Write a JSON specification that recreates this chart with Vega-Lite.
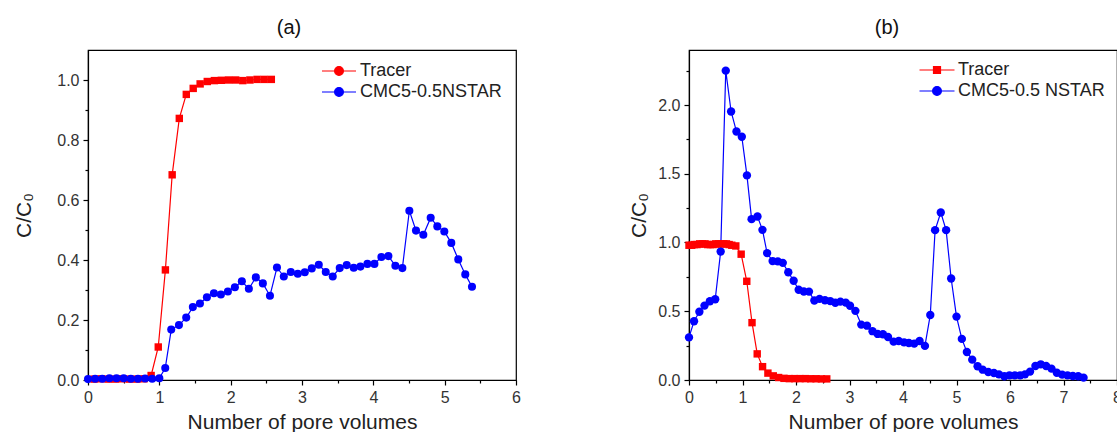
{
  "$schema": "https://vega.github.io/schema/vega-lite/v6.json",
  "background": "white",
  "padding": {"left": 13, "top": 17, "right": 0, "bottom": 0},
  "config": {
    "font": "Liberation Sans",
    "view": {"stroke": "#000", "strokeWidth": 1.2},
    "axis": {
      "grid": false,
      "domainColor": "#000",
      "domainWidth": 1.2,
      "tickColor": "#000",
      "tickWidth": 1.2,
      "labelFont": "Liberation Sans",
      "labelFontSize": 16,
      "labelColor": "#333",
      "labelPadding": 4,
      "labelOverlap": false,
      "labelFlush": false,
      "titleFont": "Liberation Sans",
      "titleFontSize": 21,
      "titleFontWeight": "normal",
      "titleColor": "#222"
    },
    "title": {"font": "Liberation Sans", "fontSize": 20, "fontWeight": "normal", "color": "#111"}
  },
  "datasets": {
    "a": [
      {"x": 0.085, "y": 0.003, "s": "Tracer"}, {"x": 0.185, "y": 0.004, "s": "Tracer"}, {"x": 0.285, "y": 0.003, "s": "Tracer"},
      {"x": 0.385, "y": 0.003, "s": "Tracer"}, {"x": 0.485, "y": 0.004, "s": "Tracer"}, {"x": 0.585, "y": 0.003, "s": "Tracer"},
      {"x": 0.685, "y": 0.003, "s": "Tracer"}, {"x": 0.785, "y": 0.004, "s": "Tracer"}, {"x": 0.885, "y": 0.015, "s": "Tracer"},
      {"x": 0.985, "y": 0.11, "s": "Tracer"}, {"x": 1.085, "y": 0.367, "s": "Tracer"}, {"x": 1.18, "y": 0.684, "s": "Tracer"},
      {"x": 1.28, "y": 0.872, "s": "Tracer"}, {"x": 1.378, "y": 0.952, "s": "Tracer"}, {"x": 1.475, "y": 0.972, "s": "Tracer"},
      {"x": 1.572, "y": 0.987, "s": "Tracer"}, {"x": 1.672, "y": 0.995, "s": "Tracer"}, {"x": 1.772, "y": 0.998, "s": "Tracer"},
      {"x": 1.87, "y": 0.999, "s": "Tracer"}, {"x": 1.97, "y": 1.0, "s": "Tracer"}, {"x": 2.07, "y": 1.0, "s": "Tracer"},
      {"x": 2.17, "y": 0.998, "s": "Tracer"}, {"x": 2.27, "y": 1.0, "s": "Tracer"}, {"x": 2.37, "y": 1.002, "s": "Tracer"},
      {"x": 2.47, "y": 1.002, "s": "Tracer"}, {"x": 2.57, "y": 1.002, "s": "Tracer"},
      {"x": 0.0, "y": 0.003, "s": "CMC5-0.5NSTAR"}, {"x": 0.1, "y": 0.004, "s": "CMC5-0.5NSTAR"}, {"x": 0.2, "y": 0.004, "s": "CMC5-0.5NSTAR"},
      {"x": 0.3, "y": 0.006, "s": "CMC5-0.5NSTAR"}, {"x": 0.4, "y": 0.006, "s": "CMC5-0.5NSTAR"}, {"x": 0.5, "y": 0.006, "s": "CMC5-0.5NSTAR"},
      {"x": 0.6, "y": 0.004, "s": "CMC5-0.5NSTAR"}, {"x": 0.7, "y": 0.004, "s": "CMC5-0.5NSTAR"}, {"x": 0.8, "y": 0.005, "s": "CMC5-0.5NSTAR"},
      {"x": 0.9, "y": 0.004, "s": "CMC5-0.5NSTAR"}, {"x": 1.0, "y": 0.006, "s": "CMC5-0.5NSTAR"}, {"x": 1.083, "y": 0.04, "s": "CMC5-0.5NSTAR"},
      {"x": 1.167, "y": 0.168, "s": "CMC5-0.5NSTAR"}, {"x": 1.275, "y": 0.183, "s": "CMC5-0.5NSTAR"}, {"x": 1.377, "y": 0.208, "s": "CMC5-0.5NSTAR"},
      {"x": 1.47, "y": 0.243, "s": "CMC5-0.5NSTAR"}, {"x": 1.569, "y": 0.255, "s": "CMC5-0.5NSTAR"}, {"x": 1.667, "y": 0.276, "s": "CMC5-0.5NSTAR"},
      {"x": 1.765, "y": 0.289, "s": "CMC5-0.5NSTAR"}, {"x": 1.863, "y": 0.285, "s": "CMC5-0.5NSTAR"}, {"x": 1.961, "y": 0.295, "s": "CMC5-0.5NSTAR"},
      {"x": 2.059, "y": 0.309, "s": "CMC5-0.5NSTAR"}, {"x": 2.157, "y": 0.329, "s": "CMC5-0.5NSTAR"}, {"x": 2.255, "y": 0.304, "s": "CMC5-0.5NSTAR"},
      {"x": 2.353, "y": 0.342, "s": "CMC5-0.5NSTAR"}, {"x": 2.451, "y": 0.322, "s": "CMC5-0.5NSTAR"}, {"x": 2.551, "y": 0.281, "s": "CMC5-0.5NSTAR"},
      {"x": 2.649, "y": 0.375, "s": "CMC5-0.5NSTAR"}, {"x": 2.745, "y": 0.345, "s": "CMC5-0.5NSTAR"}, {"x": 2.843, "y": 0.36, "s": "CMC5-0.5NSTAR"},
      {"x": 2.941, "y": 0.354, "s": "CMC5-0.5NSTAR"}, {"x": 3.039, "y": 0.359, "s": "CMC5-0.5NSTAR"}, {"x": 3.137, "y": 0.372, "s": "CMC5-0.5NSTAR"},
      {"x": 3.235, "y": 0.384, "s": "CMC5-0.5NSTAR"}, {"x": 3.333, "y": 0.36, "s": "CMC5-0.5NSTAR"}, {"x": 3.431, "y": 0.345, "s": "CMC5-0.5NSTAR"},
      {"x": 3.529, "y": 0.373, "s": "CMC5-0.5NSTAR"}, {"x": 3.627, "y": 0.383, "s": "CMC5-0.5NSTAR"}, {"x": 3.725, "y": 0.374, "s": "CMC5-0.5NSTAR"},
      {"x": 3.819, "y": 0.378, "s": "CMC5-0.5NSTAR"}, {"x": 3.917, "y": 0.387, "s": "CMC5-0.5NSTAR"}, {"x": 4.015, "y": 0.387, "s": "CMC5-0.5NSTAR"},
      {"x": 4.113, "y": 0.41, "s": "CMC5-0.5NSTAR"}, {"x": 4.211, "y": 0.413, "s": "CMC5-0.5NSTAR"}, {"x": 4.309, "y": 0.381, "s": "CMC5-0.5NSTAR"},
      {"x": 4.407, "y": 0.373, "s": "CMC5-0.5NSTAR"}, {"x": 4.505, "y": 0.564, "s": "CMC5-0.5NSTAR"}, {"x": 4.598, "y": 0.498, "s": "CMC5-0.5NSTAR"},
      {"x": 4.701, "y": 0.484, "s": "CMC5-0.5NSTAR"}, {"x": 4.804, "y": 0.541, "s": "CMC5-0.5NSTAR"}, {"x": 4.897, "y": 0.512, "s": "CMC5-0.5NSTAR"},
      {"x": 4.995, "y": 0.495, "s": "CMC5-0.5NSTAR"}, {"x": 5.093, "y": 0.457, "s": "CMC5-0.5NSTAR"}, {"x": 5.191, "y": 0.402, "s": "CMC5-0.5NSTAR"},
      {"x": 5.289, "y": 0.352, "s": "CMC5-0.5NSTAR"}, {"x": 5.383, "y": 0.311, "s": "CMC5-0.5NSTAR"}
    ],
    "b": [
      {"x": 0.0, "y": 0.98, "s": "Tracer"}, {"x": 0.05, "y": 0.98, "s": "Tracer"}, {"x": 0.1, "y": 0.985, "s": "Tracer"},
      {"x": 0.15, "y": 0.985, "s": "Tracer"}, {"x": 0.2, "y": 0.99, "s": "Tracer"}, {"x": 0.25, "y": 0.99, "s": "Tracer"},
      {"x": 0.3, "y": 0.99, "s": "Tracer"}, {"x": 0.35, "y": 0.985, "s": "Tracer"}, {"x": 0.4, "y": 0.985, "s": "Tracer"},
      {"x": 0.45, "y": 0.985, "s": "Tracer"}, {"x": 0.5, "y": 0.99, "s": "Tracer"}, {"x": 0.55, "y": 0.99, "s": "Tracer"},
      {"x": 0.6, "y": 0.99, "s": "Tracer"}, {"x": 0.65, "y": 0.99, "s": "Tracer"}, {"x": 0.7, "y": 0.99, "s": "Tracer"},
      {"x": 0.75, "y": 0.985, "s": "Tracer"}, {"x": 0.8, "y": 0.98, "s": "Tracer"}, {"x": 0.875, "y": 0.975, "s": "Tracer"},
      {"x": 0.975, "y": 0.915, "s": "Tracer"}, {"x": 1.08, "y": 0.718, "s": "Tracer"}, {"x": 1.178, "y": 0.417, "s": "Tracer"},
      {"x": 1.275, "y": 0.19, "s": "Tracer"}, {"x": 1.375, "y": 0.097, "s": "Tracer"}, {"x": 1.475, "y": 0.05, "s": "Tracer"},
      {"x": 1.575, "y": 0.03, "s": "Tracer"}, {"x": 1.675, "y": 0.018, "s": "Tracer"}, {"x": 1.775, "y": 0.012, "s": "Tracer"},
      {"x": 1.875, "y": 0.01, "s": "Tracer"}, {"x": 1.975, "y": 0.01, "s": "Tracer"}, {"x": 2.075, "y": 0.01, "s": "Tracer"},
      {"x": 2.175, "y": 0.01, "s": "Tracer"}, {"x": 2.275, "y": 0.009, "s": "Tracer"}, {"x": 2.375, "y": 0.009, "s": "Tracer"},
      {"x": 2.475, "y": 0.008, "s": "Tracer"}, {"x": 2.575, "y": 0.008, "s": "Tracer"},
      {"x": 0.0, "y": 0.31, "s": "CMC5-0.5 NSTAR"}, {"x": 0.094, "y": 0.427, "s": "CMC5-0.5 NSTAR"}, {"x": 0.194, "y": 0.496, "s": "CMC5-0.5 NSTAR"},
      {"x": 0.29, "y": 0.541, "s": "CMC5-0.5 NSTAR"}, {"x": 0.39, "y": 0.573, "s": "CMC5-0.5 NSTAR"}, {"x": 0.49, "y": 0.587, "s": "CMC5-0.5 NSTAR"},
      {"x": 0.592, "y": 0.934, "s": "CMC5-0.5 NSTAR"}, {"x": 0.687, "y": 2.25, "s": "CMC5-0.5 NSTAR"}, {"x": 0.787, "y": 1.953, "s": "CMC5-0.5 NSTAR"},
      {"x": 0.887, "y": 1.807, "s": "CMC5-0.5 NSTAR"}, {"x": 0.987, "y": 1.769, "s": "CMC5-0.5 NSTAR"}, {"x": 1.083, "y": 1.488, "s": "CMC5-0.5 NSTAR"},
      {"x": 1.17, "y": 1.17, "s": "CMC5-0.5 NSTAR"}, {"x": 1.28, "y": 1.189, "s": "CMC5-0.5 NSTAR"}, {"x": 1.373, "y": 1.092, "s": "CMC5-0.5 NSTAR"},
      {"x": 1.46, "y": 0.923, "s": "CMC5-0.5 NSTAR"}, {"x": 1.563, "y": 0.865, "s": "CMC5-0.5 NSTAR"}, {"x": 1.66, "y": 0.863, "s": "CMC5-0.5 NSTAR"},
      {"x": 1.753, "y": 0.852, "s": "CMC5-0.5 NSTAR"}, {"x": 1.856, "y": 0.784, "s": "CMC5-0.5 NSTAR"}, {"x": 1.956, "y": 0.722, "s": "CMC5-0.5 NSTAR"},
      {"x": 2.05, "y": 0.656, "s": "CMC5-0.5 NSTAR"}, {"x": 2.147, "y": 0.644, "s": "CMC5-0.5 NSTAR"}, {"x": 2.243, "y": 0.643, "s": "CMC5-0.5 NSTAR"},
      {"x": 2.343, "y": 0.578, "s": "CMC5-0.5 NSTAR"}, {"x": 2.44, "y": 0.59, "s": "CMC5-0.5 NSTAR"}, {"x": 2.542, "y": 0.58, "s": "CMC5-0.5 NSTAR"},
      {"x": 2.64, "y": 0.574, "s": "CMC5-0.5 NSTAR"}, {"x": 2.735, "y": 0.562, "s": "CMC5-0.5 NSTAR"}, {"x": 2.83, "y": 0.57, "s": "CMC5-0.5 NSTAR"},
      {"x": 2.93, "y": 0.563, "s": "CMC5-0.5 NSTAR"}, {"x": 3.01, "y": 0.54, "s": "CMC5-0.5 NSTAR"}, {"x": 3.11, "y": 0.503, "s": "CMC5-0.5 NSTAR"},
      {"x": 3.22, "y": 0.403, "s": "CMC5-0.5 NSTAR"}, {"x": 3.327, "y": 0.395, "s": "CMC5-0.5 NSTAR"}, {"x": 3.43, "y": 0.355, "s": "CMC5-0.5 NSTAR"},
      {"x": 3.527, "y": 0.335, "s": "CMC5-0.5 NSTAR"}, {"x": 3.625, "y": 0.333, "s": "CMC5-0.5 NSTAR"}, {"x": 3.72, "y": 0.313, "s": "CMC5-0.5 NSTAR"},
      {"x": 3.825, "y": 0.279, "s": "CMC5-0.5 NSTAR"}, {"x": 3.92, "y": 0.284, "s": "CMC5-0.5 NSTAR"}, {"x": 4.02, "y": 0.274, "s": "CMC5-0.5 NSTAR"},
      {"x": 4.11, "y": 0.269, "s": "CMC5-0.5 NSTAR"}, {"x": 4.21, "y": 0.265, "s": "CMC5-0.5 NSTAR"}, {"x": 4.31, "y": 0.284, "s": "CMC5-0.5 NSTAR"},
      {"x": 4.41, "y": 0.248, "s": "CMC5-0.5 NSTAR"}, {"x": 4.51, "y": 0.473, "s": "CMC5-0.5 NSTAR"}, {"x": 4.6, "y": 1.09, "s": "CMC5-0.5 NSTAR"},
      {"x": 4.706, "y": 1.218, "s": "CMC5-0.5 NSTAR"}, {"x": 4.806, "y": 1.09, "s": "CMC5-0.5 NSTAR"}, {"x": 4.9, "y": 0.738, "s": "CMC5-0.5 NSTAR"},
      {"x": 5.0, "y": 0.461, "s": "CMC5-0.5 NSTAR"}, {"x": 5.1, "y": 0.299, "s": "CMC5-0.5 NSTAR"}, {"x": 5.194, "y": 0.204, "s": "CMC5-0.5 NSTAR"},
      {"x": 5.294, "y": 0.148, "s": "CMC5-0.5 NSTAR"}, {"x": 5.394, "y": 0.1, "s": "CMC5-0.5 NSTAR"}, {"x": 5.49, "y": 0.075, "s": "CMC5-0.5 NSTAR"},
      {"x": 5.594, "y": 0.058, "s": "CMC5-0.5 NSTAR"}, {"x": 5.7, "y": 0.051, "s": "CMC5-0.5 NSTAR"}, {"x": 5.794, "y": 0.041, "s": "CMC5-0.5 NSTAR"},
      {"x": 5.894, "y": 0.027, "s": "CMC5-0.5 NSTAR"}, {"x": 5.99, "y": 0.034, "s": "CMC5-0.5 NSTAR"}, {"x": 6.09, "y": 0.034, "s": "CMC5-0.5 NSTAR"},
      {"x": 6.19, "y": 0.034, "s": "CMC5-0.5 NSTAR"}, {"x": 6.28, "y": 0.041, "s": "CMC5-0.5 NSTAR"}, {"x": 6.375, "y": 0.061, "s": "CMC5-0.5 NSTAR"},
      {"x": 6.475, "y": 0.102, "s": "CMC5-0.5 NSTAR"}, {"x": 6.575, "y": 0.114, "s": "CMC5-0.5 NSTAR"}, {"x": 6.675, "y": 0.102, "s": "CMC5-0.5 NSTAR"},
      {"x": 6.775, "y": 0.083, "s": "CMC5-0.5 NSTAR"}, {"x": 6.875, "y": 0.053, "s": "CMC5-0.5 NSTAR"}, {"x": 6.975, "y": 0.039, "s": "CMC5-0.5 NSTAR"},
      {"x": 7.075, "y": 0.034, "s": "CMC5-0.5 NSTAR"}, {"x": 7.175, "y": 0.029, "s": "CMC5-0.5 NSTAR"}, {"x": 7.275, "y": 0.027, "s": "CMC5-0.5 NSTAR"},
      {"x": 7.375, "y": 0.017, "s": "CMC5-0.5 NSTAR"}
    ]
  },
  "spacing": 106,
  "resolve": {"scale": {"color": "independent"}, "legend": {"color": "independent"}},
  "hconcat": [
    {
      "width": 428,
      "height": 330,
      "title": {"text": "(a)", "frame": "group", "dx": -13, "offset": 12},
      "data": {"name": "a"},
      "encoding": {
        "x": {
          "field": "x", "type": "quantitative",
          "scale": {"domain": [0, 6], "nice": false, "zero": false},
          "axis": {
            "title": "Number of pore volumes",
            "values": [0, 0.5, 1, 1.5, 2, 2.5, 3, 3.5, 4, 4.5, 5, 5.5, 6],
            "labelExpr": "datum.value % 1 === 0 ? format(datum.value, 'd') : ''",
            "tickSize": {"condition": {"test": "datum.value % 1 === 0", "value": 5}, "value": 3},
            "titlePadding": 6
          }
        },
        "y": {
          "field": "y", "type": "quantitative",
          "scale": {"domain": [0, 1.1], "nice": false, "zero": false},
          "axis": {
            "title": "C/C₀",
            "values": [0, 0.1, 0.2, 0.3, 0.4, 0.5, 0.6, 0.7, 0.8, 0.9, 1.0],
            "labelExpr": "abs(datum.value * 5 - round(datum.value * 5)) < 0.001 ? format(datum.value, '.1f') : ''",
            "tickSize": {"condition": {"test": "abs(datum.value * 5 - round(datum.value * 5)) < 0.001", "value": 5}, "value": 3},
            "titlePadding": 22
          }
        },
        "color": {
          "field": "s", "type": "nominal", "sort": null,
          "scale": {"domain": ["Tracer", "CMC5-0.5NSTAR"], "range": ["#ff0000", "#0000ff"]},
          "legend": {
            "orient": "none", "legendX": 240, "legendY": 10, "title": null,
            "labelFont": "Liberation Sans", "labelFontSize": 18, "labelColor": "#222",
            "labelOffset": 10, "rowPadding": 1, "symbolSize": 400,
            "symbolType": "M-1.7,0H1.7M0.44,0A0.44,0.44,0,1,1,-0.44,0A0.44,0.44,0,1,1,0.44,0Z",
            "symbolStrokeWidth": 1.2,
            "encode": {
              "symbols": {
                "update": {
                  "shape": {"value": "M-1.7,0H1.7M0.44,0A0.44,0.44,0,1,1,-0.44,0A0.44,0.44,0,1,1,0.44,0Z"},
                  "fill": {"signal": "datum.value === 'Tracer' ? '#ff0000' : '#0000ff'"},
                  "stroke": {"signal": "datum.value === 'Tracer' ? '#ff0000' : '#0000ff'"},
                  "strokeWidth": {"value": 1.2},
                  "size": {"value": 400},
                  "opacity": {"value": 1}
                }
              }
            }
          }
        }
      },
      "layer": [
        {"mark": {"type": "line", "strokeWidth": 1.2}},
        {
          "transform": [{"filter": "datum.s === 'Tracer'"}],
          "mark": {"type": "point", "filled": true, "opacity": 1, "shape": "square", "size": 55}
        },
        {
          "transform": [{"filter": "datum.s !== 'Tracer'"}],
          "mark": {"type": "point", "filled": true, "opacity": 1, "shape": "circle", "size": 65}
        }
      ]
    },
    {
      "width": 428,
      "height": 330,
      "title": {"text": "(b)", "frame": "group", "dx": -16, "offset": 12},
      "data": {"name": "b"},
      "encoding": {
        "x": {
          "field": "x", "type": "quantitative",
          "scale": {"domain": [0, 8], "nice": false, "zero": false},
          "axis": {
            "title": "Number of pore volumes",
            "values": [0, 0.5, 1, 1.5, 2, 2.5, 3, 3.5, 4, 4.5, 5, 5.5, 6, 6.5, 7, 7.5, 8],
            "labelExpr": "datum.value % 1 === 0 ? format(datum.value, 'd') : ''",
            "tickSize": {"condition": {"test": "datum.value % 1 === 0", "value": 5}, "value": 3},
            "titlePadding": 6
          }
        },
        "y": {
          "field": "y", "type": "quantitative",
          "scale": {"domain": [0, 2.4], "nice": false, "zero": false},
          "axis": {
            "title": "C/C₀",
            "values": [0, 0.25, 0.5, 0.75, 1, 1.25, 1.5, 1.75, 2, 2.25],
            "labelExpr": "abs(datum.value * 2 - round(datum.value * 2)) < 0.001 ? format(datum.value, '.1f') : ''",
            "tickSize": {"condition": {"test": "abs(datum.value * 2 - round(datum.value * 2)) < 0.001", "value": 5}, "value": 3},
            "titlePadding": 8
          }
        },
        "color": {
          "field": "s", "type": "nominal", "sort": null,
          "scale": {"domain": ["Tracer", "CMC5-0.5 NSTAR"], "range": ["#ff0000", "#0000ff"]},
          "legend": {
            "orient": "none", "legendX": 237, "legendY": 9, "title": null,
            "labelFont": "Liberation Sans", "labelFontSize": 18, "labelColor": "#222",
            "labelOffset": 10, "rowPadding": 1, "symbolSize": 400,
            "symbolType": "M-1.75,0H1.75M-0.35,-0.35H0.35V0.35H-0.35Z",
            "symbolStrokeWidth": 1.2,
            "encode": {
              "symbols": {
                "update": {
                  "shape": {"signal": "datum.value === 'Tracer' ? 'M-1.75,0H1.75M-0.35,-0.35H0.35V0.35H-0.35Z' : 'M-1.75,0H1.75M0.44,0A0.44,0.44,0,1,1,-0.44,0A0.44,0.44,0,1,1,0.44,0Z'"},
                  "fill": {"signal": "datum.value === 'Tracer' ? '#ff0000' : '#0000ff'"},
                  "stroke": {"signal": "datum.value === 'Tracer' ? '#ff0000' : '#0000ff'"},
                  "strokeWidth": {"value": 1.2},
                  "size": {"value": 400},
                  "opacity": {"value": 1}
                }
              }
            }
          }
        }
      },
      "layer": [
        {"mark": {"type": "line", "strokeWidth": 1.2}},
        {
          "transform": [{"filter": "datum.s === 'Tracer'"}],
          "mark": {"type": "point", "filled": true, "opacity": 1, "shape": "square", "size": 55}
        },
        {
          "transform": [{"filter": "datum.s !== 'Tracer'"}],
          "mark": {"type": "point", "filled": true, "opacity": 1, "shape": "circle", "size": 70}
        }
      ]
    }
  ]
}
